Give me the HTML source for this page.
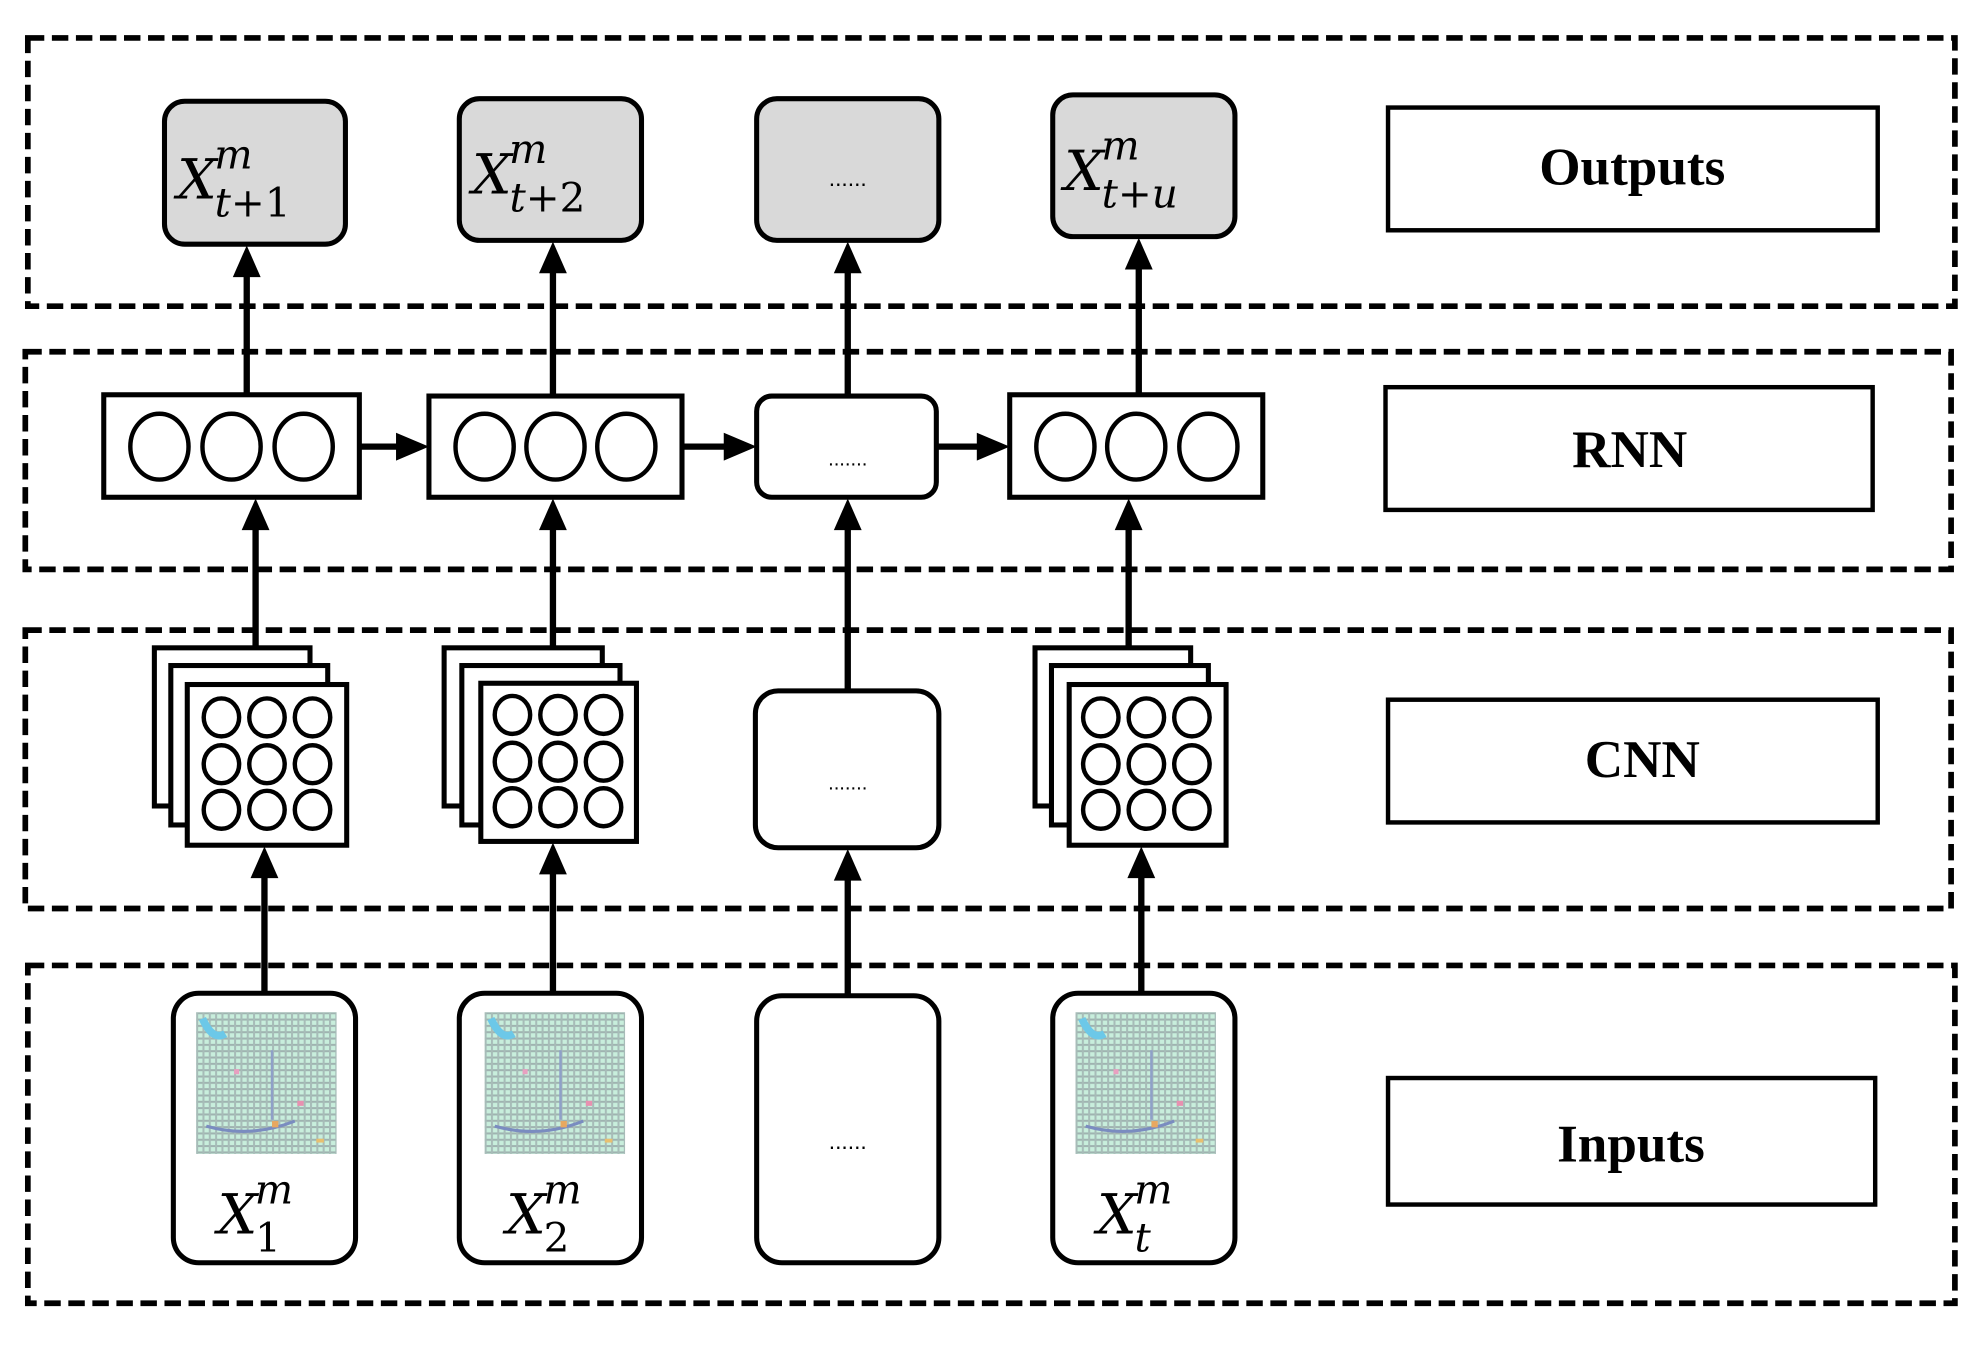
<!DOCTYPE html>
<html><head><meta charset="utf-8"><style>
html,body{margin:0;padding:0;background:#fff;}
svg{display:block;}
.m{font-family:"DejaVu Serif","Liberation Serif",serif;font-style:italic;}
.lb{font-family:"Liberation Serif",serif;font-weight:bold;font-size:42px;}
</style></head><body>
<svg width="1984" height="1345" viewBox="0 0 1568 1063" preserveAspectRatio="none" xmlns="http://www.w3.org/2000/svg">
<defs>
<pattern id="g" width="5" height="5" patternUnits="userSpaceOnUse">
<rect width="5" height="5" fill="#c8eedc"/>
<rect width="5" height="1.6" fill="#9fb3b0"/>
<rect width="1.6" height="5" fill="#a7bcb8"/>
</pattern>
<g id="img">
<rect width="111" height="112" fill="url(#g)"/>
<path d="M5 5 q8 18 18 12" stroke="#6cc8e8" stroke-width="6" fill="none"/>
<path d="M8 90 q35 10 70 -4" stroke="#7a8cc0" stroke-width="2.5" fill="none"/>
<path d="M60 30 v55" stroke="#8fa0c8" stroke-width="2" fill="none"/>
<rect x="60" y="86" width="5" height="5" fill="#e8a860"/>
<rect x="80" y="70" width="5" height="4" fill="#e890b0"/>
<rect x="95" y="100" width="6" height="3" fill="#e8c070"/>
<rect x="30" y="45" width="4" height="4" fill="#e8a0c0"/>
</g>
</defs>
<rect width="1568" height="1063" fill="#fff"/>
<g fill="none" stroke="#000" stroke-width="4.5" stroke-dasharray="13 6">
<rect x="22" y="30" width="1523" height="212"/>
<rect x="20" y="278" width="1522" height="172"/>
<rect x="20" y="498" width="1522" height="220"/>
<rect x="22" y="763" width="1523" height="267"/>
</g>
<g fill="#fff" stroke="#000" stroke-width="3.5">
<rect x="1097" y="85" width="387" height="97"/>
<rect x="1095" y="306" width="385" height="97"/>
<rect x="1097" y="553" width="387" height="97"/>
<rect x="1097" y="852" width="385" height="100"/>
</g>
<g class="lb" text-anchor="middle">
<text x="1290" y="146">Outputs</text>
<text x="1288" y="369">RNN</text>
<text x="1298" y="614">CNN</text>
<text x="1289" y="918">Inputs</text>
</g>
<g stroke="#000" stroke-width="5">
<line x1="195" y1="312" x2="195" y2="215"/><line x1="437" y1="313" x2="437" y2="212"/>
<line x1="670" y1="313" x2="670" y2="212"/><line x1="900" y1="312" x2="900" y2="209"/>
<line x1="202" y1="512" x2="202" y2="415"/><line x1="437" y1="512" x2="437" y2="415"/>
<line x1="670" y1="546" x2="670" y2="415"/><line x1="892" y1="512" x2="892" y2="415"/>
<line x1="209" y1="785" x2="209" y2="690"/><line x1="437" y1="785" x2="437" y2="687"/>
<line x1="670" y1="787" x2="670" y2="692"/><line x1="902" y1="785" x2="902" y2="690"/>
<line x1="284" y1="353" x2="315" y2="353"/><line x1="539" y1="353" x2="574" y2="353"/>
<line x1="740" y1="353" x2="774" y2="353"/>
</g>
<g fill="#000">
<polygon points="184,219 206,219 195,194"/><polygon points="426,216 448,216 437,191"/>
<polygon points="659,216 681,216 670,191"/><polygon points="889,213 911,213 900,188"/>
<polygon points="191,419 213,419 202,394"/><polygon points="426,419 448,419 437,394"/>
<polygon points="659,419 681,419 670,394"/><polygon points="881,419 903,419 892,394"/>
<polygon points="198,694 220,694 209,669"/><polygon points="426,691 448,691 437,666"/>
<polygon points="659,696 681,696 670,671"/><polygon points="891,694 913,694 902,669"/>
<polygon points="313,342 313,364 339,353"/><polygon points="572,342 572,364 598,353"/>
<polygon points="772,342 772,364 798,353"/>
</g>
<g fill="#d9d9d9" stroke="#000" stroke-width="4">
<rect x="130" y="80" width="143" height="113" rx="16"/>
<rect x="363" y="78" width="144" height="112" rx="16"/>
<rect x="598" y="78" width="144" height="112" rx="16"/>
<rect x="832" y="75" width="144" height="112" rx="16"/>
</g>
<g class="m" font-size="44">
<text x="140" y="157">X<tspan font-size="32" dy="-24" dx="-2">m</tspan><tspan font-size="32" dy="38" dx="-30">t<tspan font-style="normal">+1</tspan></tspan></text>
<text x="373" y="153">X<tspan font-size="32" dy="-24" dx="-2">m</tspan><tspan font-size="32" dy="38" dx="-30">t<tspan font-style="normal">+2</tspan></tspan></text>
<text x="841" y="150">X<tspan font-size="32" dy="-24" dx="-2">m</tspan><tspan font-size="32" dy="38" dx="-30">t+u</tspan></text>
</g>
<text x="670" y="147" font-family="Liberation Sans" font-size="18" text-anchor="middle">......</text>
<g fill="#fff" stroke="#000" stroke-width="4">
<rect x="82" y="312" width="202" height="81"/>
<rect x="339" y="313" width="200" height="80"/>
<rect x="598" y="313" width="142" height="80" rx="12"/>
<rect x="798" y="312" width="200" height="81"/>
</g>
<g fill="none" stroke="#000" stroke-width="3.5">
<ellipse cx="126" cy="353" rx="23" ry="26"/><ellipse cx="183" cy="353" rx="23" ry="26"/><ellipse cx="240" cy="353" rx="23" ry="26"/>
<ellipse cx="383" cy="353" rx="23" ry="26"/><ellipse cx="439" cy="353" rx="23" ry="26"/><ellipse cx="495" cy="353" rx="23" ry="26"/>
<ellipse cx="842" cy="353" rx="23" ry="26"/><ellipse cx="898" cy="353" rx="23" ry="26"/><ellipse cx="955" cy="353" rx="23" ry="26"/>
</g>
<text x="670" y="368" font-family="Liberation Sans" font-size="16" text-anchor="middle">.......</text>
<g fill="#fff" stroke="#000" stroke-width="4">
<rect x="122" y="512" width="123" height="125"/><rect x="135" y="526" width="124" height="126"/><rect x="148" y="541" width="126" height="127"/>
<rect x="351" y="512" width="125" height="125"/><rect x="365" y="526" width="125" height="126"/><rect x="380" y="540" width="123" height="125"/>
<rect x="597" y="546" width="145" height="124" rx="18"/>
<rect x="818" y="512" width="123" height="125"/><rect x="831" y="526" width="124" height="126"/><rect x="845" y="541" width="124" height="127"/>
</g>
<g fill="none" stroke="#000" stroke-width="3.5">
<g id="c9">
<ellipse cx="175" cy="567" rx="14" ry="15"/><ellipse cx="211" cy="567" rx="14" ry="15"/><ellipse cx="247" cy="567" rx="14" ry="15"/>
<ellipse cx="175" cy="604" rx="14" ry="15"/><ellipse cx="211" cy="604" rx="14" ry="15"/><ellipse cx="247" cy="604" rx="14" ry="15"/>
<ellipse cx="175" cy="640" rx="14" ry="15"/><ellipse cx="211" cy="640" rx="14" ry="15"/><ellipse cx="247" cy="640" rx="14" ry="15"/>
</g>
<use href="#c9" x="230" y="-2"/>
<use href="#c9" x="695" y="0"/>
</g>
<text x="670" y="624" font-family="Liberation Sans" font-size="16" text-anchor="middle">.......</text>
<g fill="#fff" stroke="#000" stroke-width="4">
<rect x="137" y="785" width="144" height="213" rx="20"/>
<rect x="363" y="785" width="144" height="213" rx="20"/>
<rect x="598" y="787" width="144" height="211" rx="20"/>
<rect x="832" y="785" width="144" height="213" rx="20"/>
</g>
<use href="#img" x="155" y="800"/>
<use href="#img" x="383" y="800"/>
<use href="#img" x="850" y="800"/>
<g class="m" font-size="44">
<text x="172" y="975">X<tspan font-size="32" dy="-24" dx="-2">m</tspan><tspan font-size="32" dy="38" dx="-30" font-style="normal">1</tspan></text>
<text x="400" y="975">X<tspan font-size="32" dy="-24" dx="-2">m</tspan><tspan font-size="32" dy="38" dx="-30" font-style="normal">2</tspan></text>
<text x="867" y="975">X<tspan font-size="32" dy="-24" dx="-2">m</tspan><tspan font-size="32" dy="38" dx="-30">t</tspan></text>
</g>
<text x="670" y="908" font-family="Liberation Sans" font-size="18" text-anchor="middle">......</text>
</svg>
</body></html>
